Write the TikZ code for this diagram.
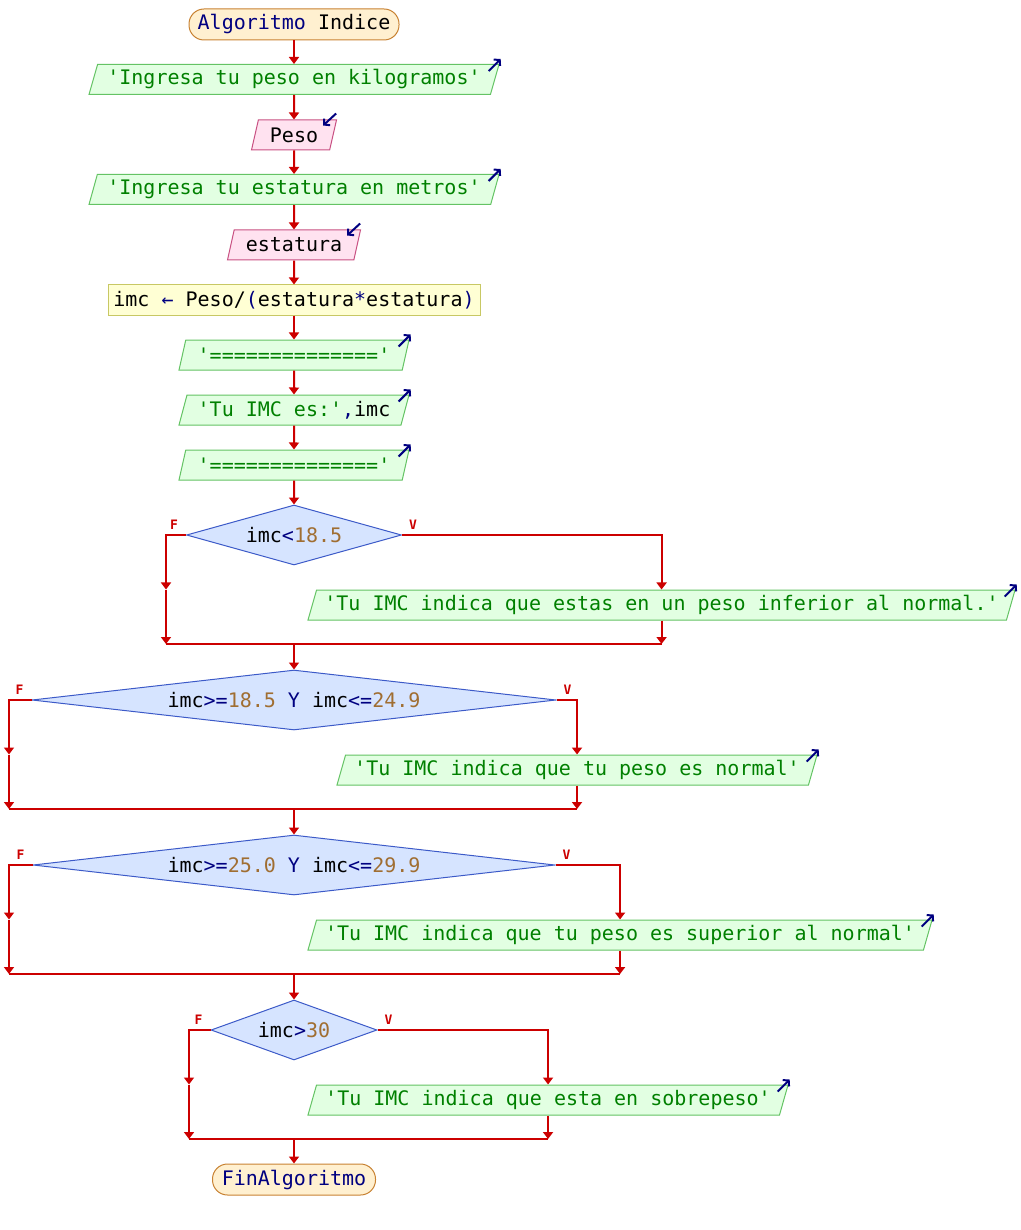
\documentclass[tikz,border=0pt]{standalone}
\usepackage{fontspec}
\setmonofont{DejaVu Sans Mono}
\usetikzlibrary{shapes.geometric,arrows.meta}

\definecolor{flow}{RGB}{204,0,0}
\definecolor{kw}{RGB}{0,0,128}
\definecolor{strg}{RGB}{0,128,0}
\definecolor{numc}{RGB}{160,110,50}
\definecolor{termfill}{RGB}{255,240,208}
\definecolor{termline}{RGB}{200,130,50}
\definecolor{outfill}{RGB}{226,255,226}
\definecolor{outline}{RGB}{100,195,100}
\definecolor{infill}{RGB}{255,226,240}
\definecolor{inline}{RGB}{200,80,130}
\definecolor{procfill}{RGB}{255,255,212}
\definecolor{procline}{RGB}{200,200,100}
\definecolor{decfill}{RGB}{214,228,255}
\definecolor{decline}{RGB}{60,90,200}

% token colouring for the pseudocode
\newcommand\opx[1]{\textcolor{kw}{#1}}
\newcommand\numx[1]{\textcolor{numc}{#1}}

\begin{document}
\begin{tikzpicture}[x=1pt,y=-1pt,
  every node/.style={font=\ttfamily\fontsize{20}{24}\selectfont},
  base/.style={draw, line width=1pt, inner sep=2pt, text=black},
  termbox/.style={base, rectangle, rounded corners=15pt, fill=termfill, draw=termline, minimum height=31pt},
  outbox/.style={base, trapezium, trapezium left angle=70, trapezium right angle=110,
    trapezium stretches body, fill=outfill, draw=outline, text=strg, minimum height=30pt},
  inbox/.style={outbox, fill=infill, draw=inline, text=black},
  procbox/.style={base, rectangle, fill=procfill, draw=procline, minimum height=30pt},
  decbox/.style={base, diamond, fill=decfill, draw=decline, inner sep=0pt, minimum height=60pt},
  flowline/.style={draw=flow, line width=2pt},
  flowarrow/.style={flowline, -{Triangle[length=7pt,width=10pt]}},
  iomark/.style={draw=kw, line width=2pt, -{Straight Barb[length=4pt,width=9pt]}},
  branchlbl/.style={font=\ttfamily\bfseries\fontsize{13}{14}\selectfont, text=flow, inner sep=0pt},
]
\useasboundingbox (0,0) rectangle (1020,1230);

% ---- sequential part ----
\node[termbox, minimum width=210pt] (start) at (294,24.5) {\opx{Algoritmo} Indice};
\node[outbox, minimum width=410pt] (o1) at (294,79.5) {'Ingresa tu peso en kilogramos'};
\node[inbox, minimum width=85pt] (i1) at (294,135) {Peso};
\node[outbox, minimum width=410pt] (o2) at (294,189.5) {'Ingresa tu estatura en metros'};
\node[inbox, minimum width=133pt] (i2) at (294,245) {estatura};
\node[procbox, minimum width=372pt] (p1) at (294,300) {imc \opx{←} Peso/\opx{(}estatura\opx{*}estatura\opx{)}};
\node[outbox, minimum width=230pt] (o3) at (294,355) {'=============='};
\node[outbox, minimum width=230pt] (o4) at (294,410) {'Tu IMC es:'\opx{,}\textcolor{black}{imc}};
\node[outbox, minimum width=230pt] (o5) at (294,465) {'=============='};

% ---- decisions ----
\node[decbox, minimum width=215pt, aspect=3.6] (d1) at (294,535) {imc\opx{<}\numx{18.5}};
\node[outbox, minimum width=707pt] (oA) at (661.5,605) {'Tu IMC indica que estas en un peso inferior al normal.'};
\node[decbox, minimum width=524pt, aspect=8.7] (d2) at (294,700) {imc\opx{>=}\numx{18.5} \opx{Y} imc\opx{<=}\numx{24.9}};
\node[outbox, minimum width=480pt] (oB) at (577,770) {'Tu IMC indica que tu peso es normal'};
\node[decbox, minimum width=522pt, aspect=8.7] (d3) at (294,865) {imc\opx{>=}\numx{25.0} \opx{Y} imc\opx{<=}\numx{29.9}};
\node[outbox, minimum width=624pt] (oC) at (620,935) {'Tu IMC indica que tu peso es superior al normal'};
\node[decbox, minimum width=166pt, aspect=2.8] (d4) at (294,1030) {imc\opx{>}\numx{30}};
\node[outbox, minimum width=480pt] (oD) at (548,1100) {'Tu IMC indica que esta en sobrepeso'};
\node[termbox, minimum width=163pt] (fin) at (294,1179.5) {\opx{FinAlgoritmo}};

% ---- output / input markers ----
\foreach \n in {o1,o2,o3,o4,o5,oA,oB,oC,oD}
  \draw[iomark] ([shift={(-11,7)}]\n.top right corner) -- ++(12,-12);
\foreach \n in {i1,i2}
  \draw[iomark] ([shift={(-1,-6)}]\n.top right corner) -- ++(-13,12);

% ---- straight connectors ----
\draw[flowarrow] (start) -- (o1);
\draw[flowarrow] (o1) -- (i1);
\draw[flowarrow] (i1) -- (o2);
\draw[flowarrow] (o2) -- (i2);
\draw[flowarrow] (i2) -- (p1);
\draw[flowarrow] (p1) -- (o3);
\draw[flowarrow] (o3) -- (o4);
\draw[flowarrow] (o4) -- (o5);
\draw[flowarrow] (o5) -- (d1);

% ---- branch wiring: decision, left x, right node, merge y, next node ----
\foreach \d/\lx/\o/\my/\nx in {d1/166/oA/644/d2, d2/9/oB/809/d3, d3/9/oC/974/d4, d4/189/oD/1139/fin}{
  \coordinate (\d L) at (\d.west -| \lx,0);
  \coordinate (\d Lm) at (\lx,0 |- \o.north);
  \coordinate (\d Lb) at (\lx,\my);
  \coordinate (\d R) at (\d.east -| \o.north);
  \coordinate (\d Rb) at (\o.south |- \d Lb);
  \coordinate (\d M) at (\d.south |- \d Lb);
  \draw[flowarrow] (\d.west) -- (\d L) -- (\d Lm);
  \draw[flowarrow] (\d Lm) -- (\d Lb);
  \draw[flowarrow] (\d.east) -- (\d R) -- (\o.north);
  \draw[flowarrow] (\o.south) -- (\d Rb);
  \draw[flowline] (\d Lb) -- (\d Rb);
  \draw[flowarrow] (\d M) -- (\nx);
  \node[branchlbl] (\d F) at ([shift={(-12,-10)}]\d.west) {F};
  \node[branchlbl] (\d V) at ([shift={(11,-10)}]\d.east) {V};
}
\end{tikzpicture}
\end{document}
